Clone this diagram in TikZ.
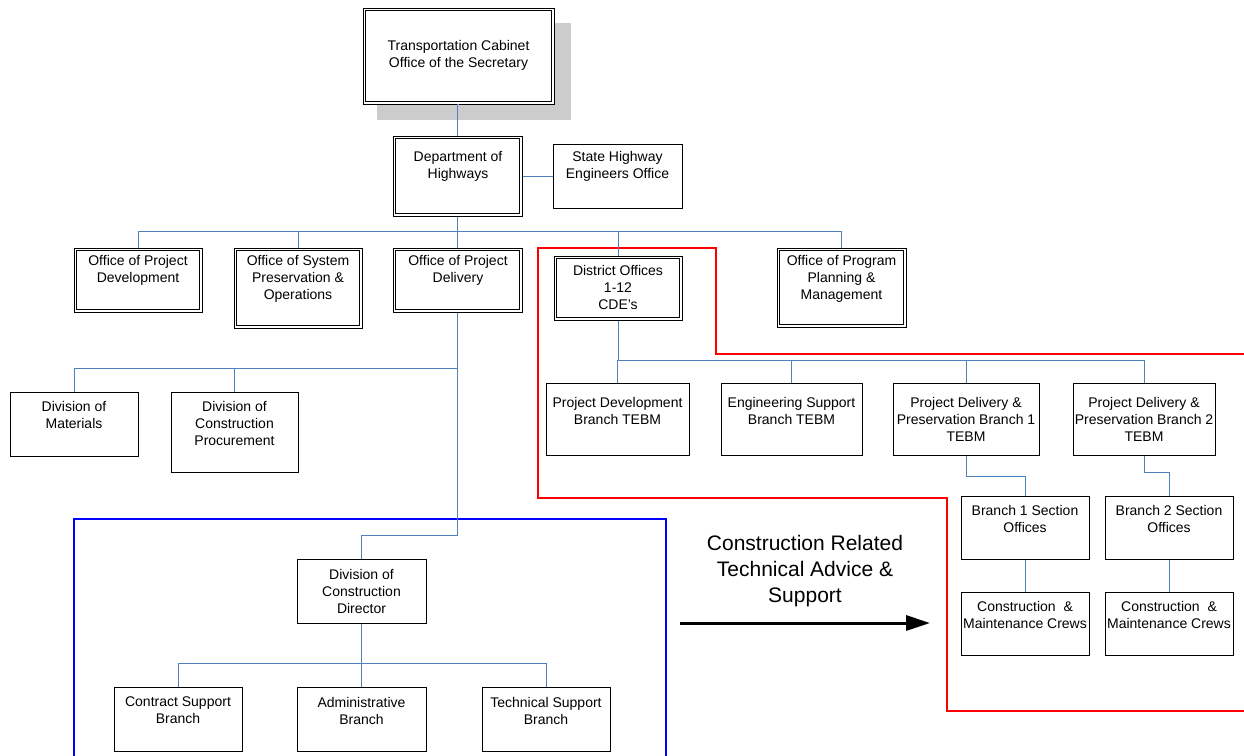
\documentclass[tikz,border=0pt]{standalone}
\usepackage{fontspec}
\setmainfont{Liberation Sans}
\usetikzlibrary{arrows.meta}
\definecolor{linkblue}{HTML}{4F81BD}
\definecolor{redline}{HTML}{FF0000}
\definecolor{frameblue}{HTML}{0000FF}
\definecolor{shadowgray}{HTML}{CCCCCC}
\newcommand\innerline[1]{\draw[innerrule] ([shift={(3.3pt,3.3pt)}]#1.south west) rectangle ([shift={(-3.3pt,-3.3pt)}]#1.north east);}
\begin{document}
\begin{tikzpicture}[x=1pt,y=-1pt,
  dbox/.style={draw=black, line width=1pt, fill=white, inner sep=0pt},
  innerrule/.style={draw=black, line width=1pt},
  sbox/.style={draw=black, line width=1pt, fill=white, inner sep=0pt},
  txt/.style={font=\fontsize{14}{17}\selectfont, align=center, inner sep=0pt},
  bigtxt/.style={font=\fontsize{21}{26}\selectfont, align=center, inner sep=0pt},
  conn/.style={draw=linkblue, line width=1pt},
  redframe/.style={draw=redline, line width=2pt},
  blueframe/.style={draw=frameblue, line width=2pt},
  bigarrow/.style={draw=black, line width=3pt, -{Triangle[length=24pt,width=15pt]}}]
\useasboundingbox (0,0) rectangle (1244,755);

% shadow of the top box
\fill[shadowgray] (377,23) rectangle (571,120);

% frames
\draw[redframe] (1246,354) -- (716,354) -- (716,248) -- (538,248) -- (538,498) -- (947,498) -- (947,711) -- (1246,711);
\draw[blueframe] (74,760) -- (74,519) -- (666,519) -- (666,760);

% helper coordinates for buses
\coordinate (busA) at (0,231);
\coordinate (busB) at (0,368);
\coordinate (busC) at (0,535);
\coordinate (busD) at (0,360);
\coordinate (busE) at (0,476);
\coordinate (busF) at (0,472);
\coordinate (busG) at (0,663);

% double boxes
\node[dbox, minimum width=191pt, minimum height=96pt] (trans) at (458.5,56) {};
\node[dbox, minimum width=129pt, minimum height=80pt] (doh) at (457.5,176) {};
\node[dbox, minimum width=128pt, minimum height=64pt] (opd) at (138,280) {};
\node[dbox, minimum width=128pt, minimum height=80pt] (osp) at (298,288) {};
\node[dbox, minimum width=129pt, minimum height=64pt] (opdel) at (457.5,280) {};
\node[dbox, minimum width=128pt, minimum height=64pt] (dist) at (618,288) {};
\node[dbox, minimum width=129pt, minimum height=79pt] (oppm) at (841.5,287.5) {};
\innerline{trans}
\innerline{doh}
\innerline{opd}
\innerline{osp}
\innerline{opdel}
\innerline{dist}
\innerline{oppm}

% single boxes
\node[sbox, minimum width=129pt, minimum height=64pt] (sheo) at (617.5,176) {};
\node[sbox, minimum width=128pt, minimum height=64pt] (mat) at (74,424) {};
\node[sbox, minimum width=127pt, minimum height=80pt] (proc) at (234.5,432) {};
\node[sbox, minimum width=143pt, minimum height=72pt] (pdb) at (617.5,419) {};
\node[sbox, minimum width=141pt, minimum height=72pt] (esb) at (791.5,419) {};
\node[sbox, minimum width=146pt, minimum height=72pt] (pdp1) at (966,419) {};
\node[sbox, minimum width=142pt, minimum height=72pt] (pdp2) at (1144,419) {};
\node[sbox, minimum width=128pt, minimum height=63pt] (b1so) at (1025,527.5) {};
\node[sbox, minimum width=128pt, minimum height=63pt] (b2so) at (1169,527.5) {};
\node[sbox, minimum width=128pt, minimum height=63pt] (cmc1) at (1025,623.5) {};
\node[sbox, minimum width=128pt, minimum height=63pt] (cmc2) at (1169,623.5) {};
\node[sbox, minimum width=129pt, minimum height=64pt] (dcd) at (361.5,591) {};
\node[sbox, minimum width=128pt, minimum height=64pt] (csb) at (178,719) {};
\node[sbox, minimum width=129pt, minimum height=64pt] (adm) at (361.5,719) {};
\node[sbox, minimum width=128pt, minimum height=64pt] (tsb) at (546,719) {};

% texts
\node[txt] (trans-t) at (458.5,55.5) {Transportation Cabinet\\Office of the Secretary};
\node[txt] (doh-t) at (458,166.5) {Department of\\Highways};
\node[txt] (sheo-t) at (617.5,166.5) {State Highway\\Engineers Office};
\node[txt] (opd-t) at (138,270.5) {Office of Project\\Development};
\node[txt] (osp-t) at (298,279) {Office of System\\Preservation \&\\Operations};
\node[txt] (opdel-t) at (458,270.5) {Office of Project\\Delivery};
\node[txt] (dist-t) at (618,287) {District Offices\\1-12\\CDE’s};
\node[txt] (oppm-t) at (841.5,278.5) {Office of Program\\Planning \&\\Management};
\node[txt] (mat-t) at (74,415) {Division of\\Materials};
\node[txt] (proc-t) at (234.5,423) {Division of\\Construction\\Procurement};
\node[txt] (pdb-t) at (617.5,410.5) {Project Development\\Branch TEBM};
\node[txt] (esb-t) at (791.5,410.5) {Engineering Support\\Branch TEBM};
\node[txt] (pdp1-t) at (966,419) {Project Delivery \&\\Preservation Branch 1\\TEBM};
\node[txt] (pdp2-t) at (1144,419) {Project Delivery \&\\Preservation Branch 2\\TEBM};
\node[txt] (b1so-t) at (1025,518.5) {Branch 1 Section\\Offices};
\node[txt] (b2so-t) at (1169,518.5) {Branch 2 Section\\Offices};
\node[txt] (cmc1-t) at (1025,614.5) {Construction~~\&\\Maintenance Crews};
\node[txt] (cmc2-t) at (1169,614.5) {Construction~~\&\\Maintenance Crews};
\node[txt] (dcd-t) at (361.5,591) {Division of\\Construction\\Director};
\node[txt] (csb-t) at (178,710.5) {Contract Support\\Branch};
\node[txt] (adm-t) at (361.5,710.5) {Administrative\\Branch};
\node[txt] (tsb-t) at (546,710.5) {Technical Support\\Branch};

\node[bigtxt] (advice) at (805,571) {Construction Related\\Technical Advice \&\\Support};

% connectors
\draw[conn] (trans.south) -- (trans.south -| doh.north) -- (doh.north);
\draw[conn] (doh.east) -- (sheo.west);
\draw[conn] (doh.south) -- (doh.south |- busA);
\draw[conn] (opd.north) |- (oppm.north |- busA) -- (oppm.north);
\draw[conn] (osp.north) -- (osp.north |- busA);
\draw[conn] (opdel.north) -- (opdel.north |- busA);
\draw[conn] (dist.north) -- (dist.north |- busA);

\draw[conn] (opdel.south) -- (opdel.south |- busC) -| (dcd.north);
\draw[conn] (mat.north) |- (opdel.south |- busB);
\draw[conn] (proc.north) -- (proc.north |- busB);

\draw[conn] (dist.south) -- (dist.south |- busD);
\draw[conn] (pdb.north) |- (pdp2.north |- busD) -- (pdp2.north);
\draw[conn] (esb.north) -- (esb.north |- busD);
\draw[conn] (pdp1.north) -- (pdp1.north |- busD);

\draw[conn] (pdp1.south) |- (b1so.north |- busE) -- (b1so.north);
\draw[conn] (pdp2.south) |- (b2so.north |- busF) -- (b2so.north);
\draw[conn] (b1so.south) -- (cmc1.north);
\draw[conn] (b2so.south) -- (cmc2.north);

\draw[conn] (dcd.south) -- (dcd.south |- busG);
\draw[conn] (csb.north) |- (tsb.north |- busG) -- (tsb.north);
\draw[conn] (adm.north) -- (adm.north |- busG);

% big arrow
\coordinate (arrS) at (680,623);
\coordinate (arrE) at (930,623);
\draw[bigarrow] (arrS) -- (arrE);
\end{tikzpicture}
\end{document}
